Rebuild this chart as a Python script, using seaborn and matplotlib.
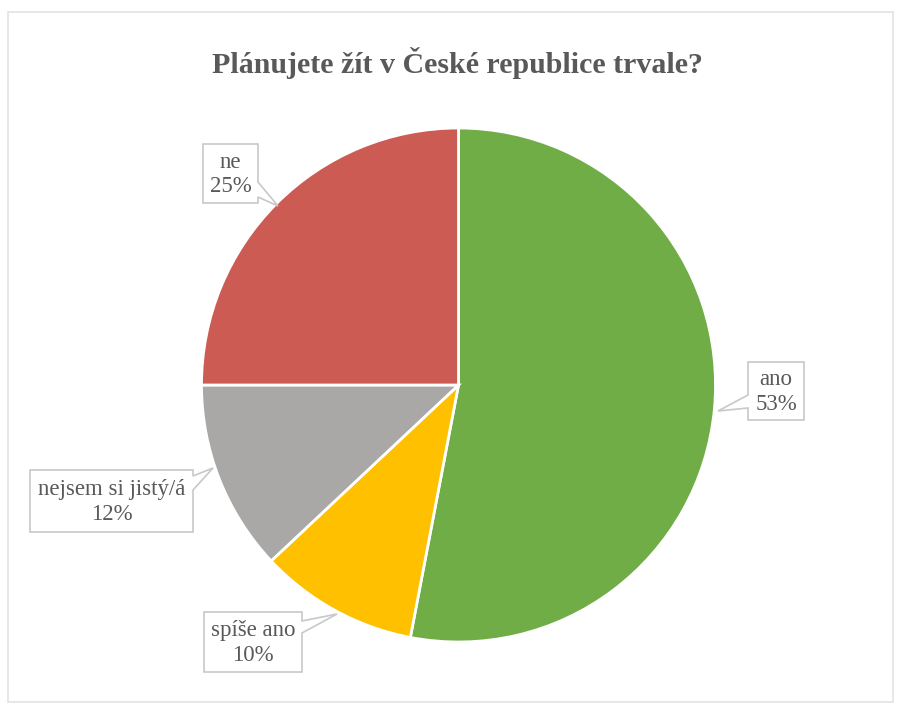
import numpy as np
import matplotlib
matplotlib.use('Agg')
import matplotlib.pyplot as plt
import matplotlib.patches as mpatches
import seaborn as sns

sns.set_theme(style='white')
plt.rcParams['font.family'] = ['Liberation Serif', 'DejaVu Serif']

# ── data
CATEGORIES = ['ano', 'spíše ano', 'nejsem si jistý/á', 'ne']
VALUES     = [53, 10, 12, 25]
COLORS     = ['#70AD47', '#FFC000', '#AAA8A7', '#CB5B53']
TITLE      = 'Plánujete žít v České republice trvale?'
TEXT_COL   = '#595959'
BOX_COL    = '#C8C8C8'

W, H = 898, 706
CX, CY, R = 458.5, 385, 257

# callout layout in pixels: box (x0, y0, x1, y1), tail (side, a, b, tip)
CALLOUTS = {
    'ano':               ((748, 362, 804, 420), ('left', 408, 395, (718, 411))),
    'spíše ano':         ((204, 612, 302, 672), ('right', 621, 633, (337, 614))),
    'nejsem si jistý/á': ((30, 470, 193, 532), ('right', 476, 490, (213, 468))),
    'ne':                ((203, 144, 258, 203), ('right', 182, 197, (278, 206))),
}

fig = plt.figure(figsize=(W / 100, H / 100), dpi=100)
fig.patch.set_facecolor('white')

# light frame
fig.add_artist(mpatches.Rectangle((8 / W, 1 - 702 / H), 885 / W, 690 / H,
                                  transform=fig.transFigure, fill=False,
                                  edgecolor='#E3E3E3', lw=1.2))

ax = fig.add_axes([(CX - R) / W, 1 - (CY + R) / H, 2 * R / W, 2 * R / H])
ax.pie(VALUES, colors=COLORS, startangle=90, counterclock=False, radius=1,
       wedgeprops=dict(edgecolor='white', linewidth=2))
ax.set_xlim(-1, 1); ax.set_ylim(-1, 1)
ax.set_aspect('equal')
ax.axis('off')

def fx(px): return px / W
def fy(py): return 1 - py / H

for cat, val in zip(CATEGORIES, VALUES):
    (x0, y0, x1, y1), (side, a, b, tip) = CALLOUTS[cat]
    pts = [(x0, y0)]
    if side == 'top':
        pts += [(a, y0), tip, (b, y0)]
    pts.append((x1, y0))
    if side == 'right':
        pts += [(x1, a), tip, (x1, b)]
    pts.append((x1, y1))
    if side == 'bottom':
        pts += [(a, y1), tip, (b, y1)]
    pts.append((x0, y1))
    if side == 'left':
        pts += [(x0, a), tip, (x0, b)]
    poly = mpatches.Polygon([(fx(x), fy(y)) for x, y in pts], closed=True,
                            transform=fig.transFigure, facecolor='white',
                            edgecolor=BOX_COL, lw=1.2, zorder=5)
    fig.add_artist(poly)
    fig.text(fx((x0 + x1) / 2), fy((y0 + y1) / 2 + 1), f'{cat}\n{val}%',
             ha='center', va='center', fontsize=16.5, color=TEXT_COL,
             linespacing=1.2, zorder=6)

fig.text(fx(457), fy(63), TITLE, ha='center', va='center', fontsize=21.5,
         fontweight='bold', color=TEXT_COL)

fig.savefig('out.png', dpi=100, facecolor='white')
